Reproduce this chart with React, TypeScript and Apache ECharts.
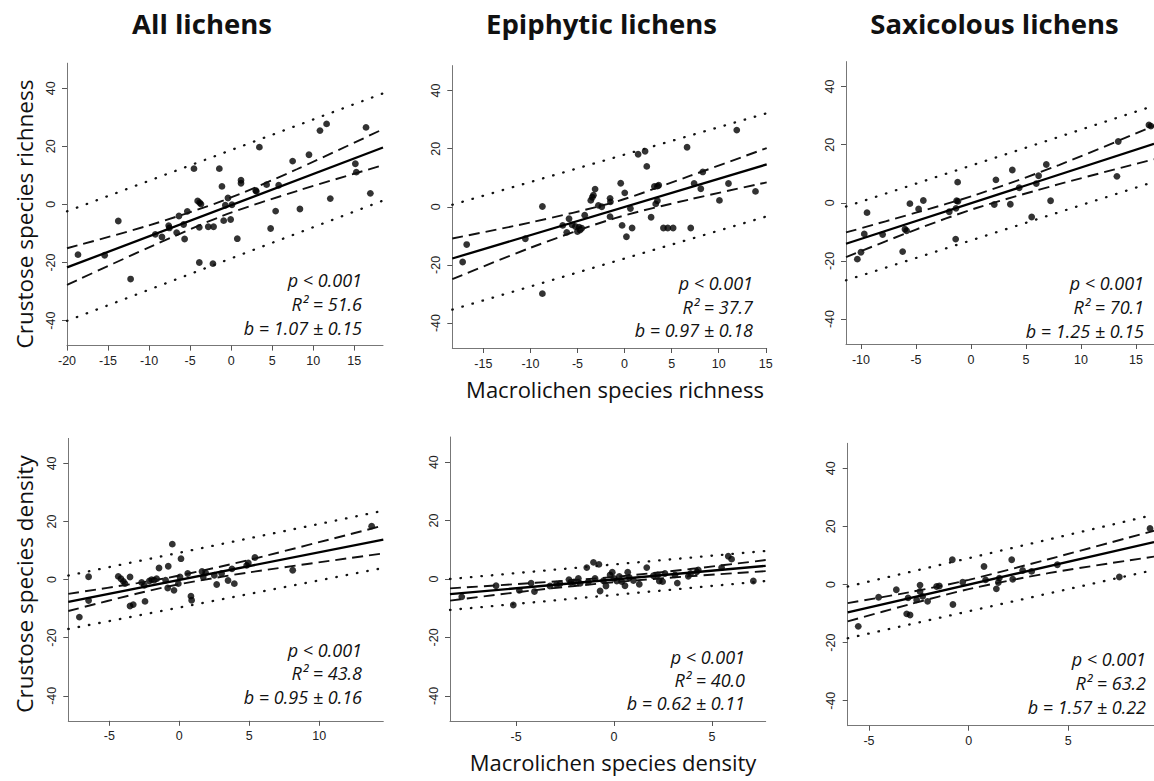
import React, { useEffect, useRef } from "react";
import * as echarts from "echarts";

// ---------- text ----------
const columnTitles = ["All lichens", "Epiphytic lichens", "Saxicolous lichens"];
const yAxisTitles = ["Crustose species richness", "Crustose species density"];
const xAxisTitles = ["Macrolichen species richness", "Macrolichen species density"];
const yTicks = [-40, -20, 0, 20, 40];
const yRange = [-48.6, 48.6];

// ---------- All lichens, richness ----------
const allRichX = [-18.66, -15.41, -13.75, -12.25, -9.24, -8.43, -7.61, -7.53, -6.64, -6.36, -5.79, -5.67, -5.34, -4.53, -4.08, -3.84, -3.68, -3.88, -3.88, -2.79, -2.14, -2.22, -1.44, -1.12, -0.91, -0.71, -0.39, -0.06, 0.1, 0.75, 1.2, 1.2, 2.99, 3.07, 3.44, 4.32, 4.81, 5.42, 5.79, 7.49, 8.38, 9.48, 10.82, 11.63, 12.08, 15.13, 15.25, 16.43, 16.96];
const allRichY = [-17.3, -17.5, -5.7, -25.7, -10.3, -11.2, -7.3, -8.1, -9.7, -4.0, -6.9, -11.9, -2.4, 12.3, 1.2, 0.6, 0.1, -7.9, -20.0, -7.7, -7.7, -20.4, 12.3, 6.2, -5.6, -0.3, 2.2, -5.2, -0.1, -11.8, 8.3, 7.3, 4.8, 4.5, 19.7, 6.8, -8.3, -2.3, 6.6, 14.9, -1.6, 17.1, 25.4, 27.7, 2.0, 14.0, 11.1, 26.5, 3.8];
const allRichXRange = [-20, 18.5];
const allRichXTicks = [-20, -15, -10, -5, 0, 5, 10, 15];
const allRichFit = [-21.7, 19.6];
const allRichBandX = [-20, -10, -1, 8, 18.5];
const allRichConfUpper = [-15.1, -7.2, 1.3, 12.1, 25.9];
const allRichConfLower = [-27.7, -14.8, -3.9, 4.6, 13.5];
const allRichPredUpper = [-2.4, 38.2];
const allRichPredLower = [-40.1, 1.3];
const allRichStats = ["p < 0.001", "R² = 51.6", "b = 1.07 ± 0.15"];

// ---------- Epiphytic lichens, richness ----------
const epiRichX = [-17.2, -16.77, -10.54, -8.73, -8.73, -6.57, -6.14, -5.9, -5.58, -5.22, -5.01, -4.83, -4.73, -4.55, -4.23, -3.59, -3.42, -3.31, -3.13, -2.78, -2.42, -1.54, -1.5, -1.54, -0.41, -0.26, 0.02, 0.2, 0.62, 0.8, 1.44, 2.18, 2.36, 2.82, 3.17, 3.31, 3.49, 3.49, 3.63, 4.13, 4.59, 5.16, 6.64, 7.03, 7.39, 8.1, 8.31, 10.08, 11.04, 11.92, 13.91];
const epiRichY = [-19.0, -13.0, -11.0, 0.1, -29.9, -6.4, -8.8, -4.1, -6.2, -6.8, -8.5, -7.0, -8.0, -7.4, -2.9, 2.2, 3.3, 4.0, 6.1, 0.5, 0.0, 2.9, 1.7, -3.4, 8.1, -6.4, 4.8, -10.3, -0.6, -7.3, 18.1, 19.1, 13.9, -3.6, 7.0, 1.0, 7.1, 2.1, 7.4, -7.3, -7.3, -7.3, 20.5, -7.3, 8.0, 6.2, 12.0, 2.2, 8.0, 26.4, 5.3];
const epiRichXRange = [-18.3, 15.1];
const epiRichXTicks = [-15, -10, -5, 0, 5, 10, 15];
const epiRichFit = [-17.8, 14.6];
const epiRichBandX = [-18.3, -10, -1, 7, 15.1];
const epiRichConfUpper = [-10.9, -5.4, 1.7, 10.7, 20.2];
const epiRichConfLower = [-24.9, -14.1, -3.9, 2.6, 8.4];
const epiRichPredUpper = [0.7, 32.2];
const epiRichPredLower = [-35.4, -3.3];
const epiRichStats = ["p < 0.001", "R² = 37.7", "b = 0.97 ± 0.18"];

// ---------- Saxicolous lichens, richness ----------
const saxRichX = [-10.33, -10.0, -9.7, -9.45, -8.03, -6.21, -6.0, -5.85, -5.55, -4.76, -4.33, -1.97, -1.39, -1.36, -1.3, -1.21, -1.18, 2.12, 2.27, 3.58, 3.76, 4.39, 5.52, 5.94, 6.15, 6.85, 7.24, 13.27, 13.39, 16.18, 16.36];
const saxRichY = [-19.4, -17.0, -10.7, -3.4, -10.9, -16.8, -9.1, -9.6, -0.3, -2.1, 0.8, -3.1, -12.5, -1.9, 0.7, 7.1, 0.5, -0.6, 7.9, -0.5, 11.3, 5.2, -4.9, 6.6, 9.3, 13.2, 0.7, 9.1, 21.1, 26.8, 26.4];
const saxRichXRange = [-11.36, 16.64];
const saxRichXTicks = [-10, -5, 0, 5, 10, 15];
const saxRichFit = [-14.1, 20.3];
const saxRichBandX = [-11.36, -5, 0.5, 8, 16.64];
const saxRichConfUpper = [-10.2, -3.4, 2.8, 13.0, 26.5];
const saxRichConfLower = [-18.7, -9.2, -1.8, 6.4, 15.0];
const saxRichPredUpper = [-1.3, 33.4];
const saxRichPredLower = [-26.7, 7.2];
const saxRichStats = ["p < 0.001", "R² = 70.1", "b = 1.25 ± 0.15"];

// ---------- All lichens, density ----------
const allDensX = [-7.14, -6.48, -6.48, -4.36, -4.17, -4.0, -3.88, -3.52, -3.52, -3.29, -2.69, -2.5, -2.45, -2.14, -1.98, -1.81, -1.62, -1.45, -0.98, -0.83, -0.79, -0.5, -0.38, -0.07, 0.05, 0.12, 0.6, 0.83, 0.88, 1.62, 1.71, 1.88, 2.5, 2.67, 3.02, 3.48, 3.76, 3.93, 4.81, 4.93, 5.4, 8.1, 13.74];
const allDensY = [-12.9, 1.0, -7.2, 1.1, 0.3, -0.6, -1.4, 0.9, -9.1, -8.6, -1.0, -2.0, -7.5, -0.5, 0.0, -0.2, 0.3, 4.0, -0.2, -2.9, 4.6, 12.2, -3.7, -1.4, 0.9, 7.2, 2.1, -5.7, -7.1, 2.8, 0.9, 2.3, 1.5, -1.7, 2.1, -0.3, 3.7, -1.4, 4.9, 5.7, 7.6, 3.2, 18.4];
const allDensXRange = [-7.93, 14.57];
const allDensXTicks = [-5, 0, 5, 10];
const allDensFit = [-7.7, 13.8];
const allDensBandX = [-7.93, -3, 0, 5, 14.57];
const allDensConfUpper = [-4.9, -1.2, 1.4, 6.8, 18.6];
const allDensConfLower = [-10.8, -4.8, -1.6, 2.5, 9.0];
const allDensPredUpper = [1.4, 23.7];
const allDensPredLower = [-17.0, 4.0];
const allDensStats = ["p < 0.001", "R² = 43.8", "b = 0.95 ± 0.16"];

// ---------- Epiphytic lichens, density ----------
const epiDensX = [-7.77, -6.02, -5.14, -4.83, -4.23, -4.06, -3.27, -2.93, -2.76, -2.3, -2.21, -2.04, -1.82, -1.73, -1.39, -1.31, -1.05, -0.97, -0.77, -0.71, -0.54, -0.41, -0.2, -0.09, 0.0, 0.14, 0.27, 0.39, 0.56, 0.7, 0.78, 0.99, 1.29, 1.67, 2.01, 2.23, 2.31, 2.48, 2.6, 3.11, 3.23, 3.79, 3.91, 4.22, 4.3, 5.49, 5.83, 6.0, 7.11];
const epiDensY = [-6.1, -2.3, -8.9, -3.9, -1.4, -4.3, -2.4, -1.8, -1.6, -0.2, -1.2, -1.0, 0.2, -1.5, 3.9, -1.0, 5.7, 0.2, 5.0, -4.1, -0.6, -2.4, 1.4, 2.3, 0.2, -0.7, 0.9, -0.9, -2.3, 2.3, 0.5, -0.5, -1.8, 3.9, 1.1, 1.4, -0.7, -0.9, 1.9, 1.4, -1.4, 0.9, 1.9, 2.5, 3.1, 3.9, 7.8, 6.8, -0.7];
const epiDensXRange = [-8.37, 7.74];
const epiDensXTicks = [-5, 0, 5];
const epiDensFit = [-5.2, 4.5];
const epiDensBandX = [-8.37, -4, 0, 4, 7.74];
const epiDensConfUpper = [-3.2, -1.3, 0.7, 3.5, 6.5];
const epiDensConfLower = [-7.4, -3.8, -1.1, 1.0, 2.7];
const epiDensPredUpper = [0.0, 9.6];
const epiDensPredLower = [-10.6, -0.7];
const epiDensStats = ["p < 0.001", "R² = 40.0", "b = 0.62 ± 0.11"];

// ---------- Saxicolous lichens, density ----------
const saxDensX = [-5.54, -4.52, -3.63, -3.11, -3.04, -2.94, -2.61, -2.44, -2.44, -2.31, -2.06, -1.61, -1.47, -0.82, -0.79, -0.3, 0.77, 0.85, 1.39, 1.49, 1.54, 2.16, 2.21, 2.71, 3.16, 4.45, 7.56, 9.1];
const saxDensY = [-14.4, -4.4, -1.8, -10.1, -4.6, -10.5, -5.3, -0.2, -2.4, -4.1, -5.8, -0.7, -0.5, 8.5, -6.9, 0.8, 6.2, 1.6, -1.5, 0.7, 2.2, 8.5, 1.8, 4.8, 4.5, 6.8, 2.6, 19.3];
const saxDensXRange = [-6.07, 9.3];
const saxDensXTicks = [-5, 0, 5];
const saxDensFit = [-9.6, 14.6];
const saxDensBandX = [-6.07, -3, 0, 4, 9.3];
const saxDensConfUpper = [-6.4, -2.7, 1.6, 8.7, 18.5];
const saxDensConfLower = [-12.7, -6.9, -1.6, 3.9, 9.6];
const saxDensPredUpper = [-0.7, 24.0];
const saxDensPredLower = [-18.5, 5.0];
const saxDensStats = ["p < 0.001", "R² = 63.2", "b = 1.57 ± 0.22"];

const panels = [
  { x: allRichX, y: allRichY, xr: allRichXRange, ticks: allRichXTicks, fit: allRichFit, bx: allRichBandX, cu: allRichConfUpper, cl: allRichConfLower, pu: allRichPredUpper, pl: allRichPredLower, stats: allRichStats },
  { x: epiRichX, y: epiRichY, xr: epiRichXRange, ticks: epiRichXTicks, fit: epiRichFit, bx: epiRichBandX, cu: epiRichConfUpper, cl: epiRichConfLower, pu: epiRichPredUpper, pl: epiRichPredLower, stats: epiRichStats },
  { x: saxRichX, y: saxRichY, xr: saxRichXRange, ticks: saxRichXTicks, fit: saxRichFit, bx: saxRichBandX, cu: saxRichConfUpper, cl: saxRichConfLower, pu: saxRichPredUpper, pl: saxRichPredLower, stats: saxRichStats },
  { x: allDensX, y: allDensY, xr: allDensXRange, ticks: allDensXTicks, fit: allDensFit, bx: allDensBandX, cu: allDensConfUpper, cl: allDensConfLower, pu: allDensPredUpper, pl: allDensPredLower, stats: allDensStats },
  { x: epiDensX, y: epiDensY, xr: epiDensXRange, ticks: epiDensXTicks, fit: epiDensFit, bx: epiDensBandX, cu: epiDensConfUpper, cl: epiDensConfLower, pu: epiDensPredUpper, pl: epiDensPredLower, stats: epiDensStats },
  { x: saxDensX, y: saxDensY, xr: saxDensXRange, ticks: saxDensXTicks, fit: saxDensFit, bx: saxDensBandX, cu: saxDensConfUpper, cl: saxDensConfLower, pu: saxDensPredUpper, pl: saxDensPredLower, stats: saxDensStats },
];

// ---------- layout (pixels) ----------
const layout = [
  { left: 67, top: 63.2, width: 316, height: 282.4, sx: 362, sy: [280, 304, 328] },
  { left: 452.3, top: 65.6, width: 314.4, height: 282.4, sx: 753, sy: [283, 307, 330] },
  { left: 846, top: 61.6, width: 308, height: 282.4, sx: 1144, sy: [283, 307, 331] },
  { left: 68.3, top: 438.4, width: 315, height: 282.4, sx: 362, sy: [650, 673, 697] },
  { left: 450, top: 437, width: 315.7, height: 284, sx: 745, sy: [657, 680, 703] },
  { left: 847.7, top: 443.3, width: 306.3, height: 282.4, sx: 1146, sy: [659, 683, 707] },
];

const SANS = '"Open Sans", "Noto Sans", sans-serif';
const TICKFONT = '"Liberation Sans", Arial, sans-serif';

function zip(a: number[], b: number[]) {
  return a.map((v, i) => [v, b[i]]);
}

function buildOption() {
  const grid: any[] = [];
  const xAxis: any[] = [];
  const yAxis: any[] = [];
  const series: any[] = [];
  const graphic: any[] = [];

  panels.forEach((p, i) => {
    const l = layout[i];
    grid.push({ left: l.left, top: l.top, width: l.width, height: l.height, containLabel: false });
    xAxis.push({
      gridIndex: i,
      type: "value",
      min: p.xr[0],
      max: p.xr[1],
      axisLine: { show: true, onZero: false, lineStyle: { color: "#777", width: 1 } },
      axisTick: { show: true, customValues: p.ticks, length: 5, lineStyle: { color: "#555" } },
      axisLabel: { customValues: p.ticks, fontSize: 12.5, color: "#222", fontFamily: TICKFONT, margin: 9 },
      splitLine: { show: false },
    });
    yAxis.push({
      gridIndex: i,
      type: "value",
      min: yRange[0],
      max: yRange[1],
      axisLine: { show: true, onZero: false, lineStyle: { color: "#777", width: 1 } },
      axisTick: { show: true, customValues: yTicks, length: 5, lineStyle: { color: "#555" } },
      axisLabel: { customValues: yTicks, rotate: 90, fontSize: 12.5, color: "#222", fontFamily: TICKFONT, margin: 10 },
      splitLine: { show: false },
    });

    const common = { xAxisIndex: i, yAxisIndex: i, symbol: "none", silent: true, clip: true };
    series.push({ ...common, type: "line", data: [[p.xr[0], p.pu[0]], [p.xr[1], p.pu[1]]], lineStyle: { color: "#111", width: 2.3, type: [0.5, 10], cap: "round" } });
    series.push({ ...common, type: "line", data: [[p.xr[0], p.pl[0]], [p.xr[1], p.pl[1]]], lineStyle: { color: "#111", width: 2.3, type: [0.5, 10], cap: "round" } });
    series.push({ ...common, type: "line", smooth: 0.3, data: zip(p.bx, p.cu), lineStyle: { color: "#111", width: 1.9, type: [11, 6] } });
    series.push({ ...common, type: "line", smooth: 0.3, data: zip(p.bx, p.cl), lineStyle: { color: "#111", width: 1.9, type: [11, 6] } });
    series.push({ ...common, type: "line", data: [[p.xr[0], p.fit[0]], [p.xr[1], p.fit[1]]], lineStyle: { color: "#000", width: 2.3 } });
    series.push({
      xAxisIndex: i,
      yAxisIndex: i,
      type: "scatter",
      silent: true,
      data: zip(p.x, p.y),
      symbol: "circle",
      symbolSize: 6.8,
      itemStyle: { color: "#000" },
    });

    p.stats.forEach((s, k) => {
      graphic.push({
        type: "text",
        x: l.sx,
        y: l.sy[k],
        silent: true,
        style: {
          text: s,
          fill: "#111",
          fontFamily: SANS,
          fontStyle: "italic",
          fontSize: 18,
          textAlign: "right",
          textVerticalAlign: "middle",
        },
      });
    });
  });

  const titleX = [202, 601.5, 994.5];
  columnTitles.forEach((t, i) => {
    graphic.push({
      type: "text",
      x: titleX[i],
      y: 23.5,
      silent: true,
      style: { text: t, fill: "#111", fontFamily: SANS, fontWeight: "bold", fontSize: 27.5, textAlign: "center", textVerticalAlign: "middle" },
    });
  });
  const yTitleY = [214, 584];
  yAxisTitles.forEach((t, i) => {
    graphic.push({
      type: "text",
      x: 24,
      y: yTitleY[i],
      rotation: Math.PI / 2,
      silent: true,
      style: { text: t, fill: "#111", fontFamily: SANS, fontSize: 22.5, textAlign: "center", textVerticalAlign: "middle" },
    });
  });
  const xTitlePos = [[615, 389], [613, 762]];
  xAxisTitles.forEach((t, i) => {
    graphic.push({
      type: "text",
      x: xTitlePos[i][0],
      y: xTitlePos[i][1],
      silent: true,
      style: { text: t, fill: "#111", fontFamily: SANS, fontSize: 22, textAlign: "center", textVerticalAlign: "middle" },
    });
  });

  return {
    animation: false,
    backgroundColor: "#fff",
    grid,
    xAxis,
    yAxis,
    series,
    graphic,
  };
}

export default function App() {
  const ref = useRef<HTMLDivElement>(null);
  useEffect(() => {
    document.body.style.margin = "0";
    if (!ref.current) return;
    const chart = echarts.init(ref.current, null, { renderer: "svg" });
    chart.setOption(buildOption() as any);
    return () => chart.dispose();
  }, []);
  return <div ref={ref} style={{ width: 1154, height: 781 }} />;
}
